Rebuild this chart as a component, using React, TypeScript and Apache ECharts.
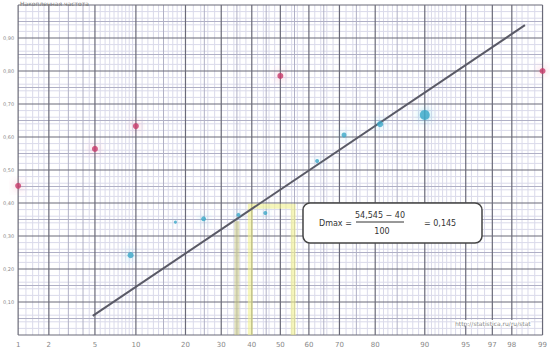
import React, { useEffect, useRef } from "react";
import * as echarts from "echarts";

// ---- data ----
const xTickPercents = [1, 2, 5, 10, 20, 30, 40, 50, 60, 70, 80, 90, 95, 97, 98, 99];
const yTickValues = [0.1, 0.2, 0.3, 0.4, 0.5, 0.6, 0.7, 0.8, 0.9];
const redPercents = [1, 5, 10, 50, 99];
const redValues = [0.452, 0.564, 0.633, 0.785, 0.8];
const bluePercents = [9.2, 17.6, 24.8, 35.5, 44.7, 62.8, 71.4, 81.2, 90];
const blueValues = [0.242, 0.342, 0.352, 0.364, 0.37, 0.527, 0.606, 0.639, 0.667];
const blueSizes = [6, 3, 5, 4, 4, 4, 5, 6, 10];
const fitPercents = [4.8, 98.5];
const fitValues = [0.058, 0.939];
const stepPercents = [39.5, 54.545];
const stepTop = 0.39;
const olivePercent = 35;
const oliveTop = 0.345;

const vMinorPercents = [1.2, 1.4, 1.6, 1.8, 2.5, 3.5, 4.5, 5.5, 6, 6.5, 7, 7.5, 8, 8.5, 9, 9.5, 11, 12, 13, 14, 16, 17, 18, 19, 22, 24, 26, 28, 32, 34, 36, 38, 42, 44, 46, 48, 52, 54, 56, 58, 62, 64, 66, 68, 72, 74, 76, 78, 81, 82, 83, 84, 86, 87, 88, 89, 90.5, 91, 91.5, 92, 92.5, 93, 93.5, 94, 94.5, 95.5, 96, 96.5, 97.5, 98.2, 98.4, 98.6, 98.8];
const vMediumPercents = [3, 4, 15, 25, 35, 45, 55, 65, 75, 85];

// inverse standard normal CDF (axis transform for probability paper)
function probit(p: number): number {
  const a = [-39.69683028665376, 220.9460984245205, -275.9285104469687, 138.357751867269, -30.66479806614716, 2.506628277459239];
  const b = [-54.47609879822406, 161.5858368580409, -155.6989798598866, 66.80131188771972, -13.28068155288572];
  const c = [-0.007784894002430293, -0.3223964580411365, -2.400758277161838, -2.549732539343734, 4.374664141464968, 2.938163982698783];
  const d = [0.007784695709041462, 0.3224671290700398, 2.445134137142996, 3.754408661907416];
  const pl = 0.02425;
  let q: number, r: number;
  if (p < pl) {
    q = Math.sqrt(-2 * Math.log(p));
    return (((((c[0] * q + c[1]) * q + c[2]) * q + c[3]) * q + c[4]) * q + c[5]) / ((((d[0] * q + d[1]) * q + d[2]) * q + d[3]) * q + 1);
  } else if (p <= 1 - pl) {
    q = p - 0.5;
    r = q * q;
    return ((((((a[0] * r + a[1]) * r + a[2]) * r + a[3]) * r + a[4]) * r + a[5]) * q) / (((((b[0] * r + b[1]) * r + b[2]) * r + b[3]) * r + b[4]) * r + 1);
  } else {
    q = Math.sqrt(-2 * Math.log(1 - p));
    return -(((((c[0] * q + c[1]) * q + c[2]) * q + c[3]) * q + c[4]) * q + c[5]) / ((((d[0] * q + d[1]) * q + d[2]) * q + d[3]) * q + 1);
  }
}
const z = (pct: number) => probit(pct / 100);

const MAJOR = "#6a6a78";
const MEDIUM = "#b0b0c6";
const MINOR = "#dadaea";

export default function App() {
  const ref = useRef<HTMLDivElement>(null);
  useEffect(() => {
    if (!ref.current) return;
    const chart = echarts.init(ref.current, null, { renderer: "svg" });
    const zMin = z(1);
    const zMax = z(99);
    const tickZ = xTickPercents.map(z);

    const vLines: number[][] = [];
    vMinorPercents.forEach((p) => vLines.push([z(p), 0]));
    vMediumPercents.forEach((p) => vLines.push([z(p), 1]));
    xTickPercents.forEach((p) => vLines.push([z(p), 2]));
    const hLines: number[][] = [];
    for (let i = 0; i <= 100; i += 2) {
      const lvl = i % 10 === 0 ? 2 : 0;
      hLines.push([i / 100, lvl]);
    }
    for (let i = 5; i < 100; i += 10) hLines.push([i / 100, 1]);

    const colorOf = (l: number) => (l === 2 ? MAJOR : l === 1 ? MEDIUM : MINOR);
    const widthOf = (l: number) => (l === 2 ? 1.2 : 1);
    const F = "DejaVu Sans";

    const option: any = {
      animation: false,
      backgroundColor: "#ffffff",
      grid: { left: 18, right: 4, top: 5, bottom: 17 },
      xAxis: {
        type: "value",
        min: zMin,
        max: zMax,
        axisLine: { show: false },
        axisTick: { show: false },
        splitLine: { show: false },
        axisLabel: {
          customValues: tickZ,
          fontSize: 7,
          color: "#888",
          fontFamily: F,
          margin: 6,
          formatter: (v: number) => {
            let best = 0;
            let bd = Infinity;
            tickZ.forEach((t, i) => {
              const dd = Math.abs(t - v);
              if (dd < bd) { bd = dd; best = i; }
            });
            return String(xTickPercents[best]);
          },
        },
      },
      yAxis: {
        type: "value",
        min: 0,
        max: 1,
        interval: 0.1,
        axisLine: { show: false },
        axisTick: { show: false },
        splitLine: { show: false },
        axisLabel: {
          fontSize: 5,
          color: "#888",
          fontFamily: F,
          margin: 4,
          formatter: (v: number) =>
            yTickValues.some((t) => Math.abs(t - v) < 1e-6) ? v.toFixed(2).replace(".", ",") : "",
        },
      },
      series: [
        {
          type: "custom",
          silent: true,
          clip: false,
          z: 1,
          data: vLines,
          renderItem: (params: any, api: any) => {
            const x = api.value(0);
            const l = api.value(1);
            const p1 = api.coord([x, 0]);
            const p2 = api.coord([x, 1]);
            return {
              type: "line",
              z2: l,
              shape: { x1: p1[0], y1: p1[1], x2: p2[0], y2: p2[1] },
              style: { stroke: colorOf(l), lineWidth: widthOf(l) },
            };
          },
        },
        {
          type: "custom",
          silent: true,
          clip: false,
          z: 1,
          data: hLines,
          renderItem: (params: any, api: any) => {
            const y = api.value(0);
            const l = api.value(1);
            const p1 = api.coord([zMin, y]);
            const p2 = api.coord([zMax, y]);
            return {
              type: "line",
              z2: l,
              shape: { x1: p1[0], y1: p1[1], x2: p2[0], y2: p2[1] },
              style: { stroke: colorOf(l), lineWidth: widthOf(l) },
            };
          },
        },
        {
          type: "custom",
          silent: true,
          clip: false,
          z: 2,
          data: [[z(stepPercents[0]), z(stepPercents[1]), stepTop, z(olivePercent), oliveTop]],
          renderItem: (params: any, api: any) => {
            const a = api.coord([api.value(0), api.value(2)]);
            const b = api.coord([api.value(1), 0]);
            const o1 = api.coord([api.value(3), api.value(4)]);
            const o2 = api.coord([api.value(3), 0]);
            return {
              type: "group",
              children: [
                {
                  type: "polyline",
                  shape: { points: [[a[0], b[1]], [a[0], a[1]], [b[0], a[1]], [b[0], b[1]]] },
                  style: { stroke: "rgba(240,240,140,0.6)", lineWidth: 5, fill: null },
                },
                {
                  type: "line",
                  shape: { x1: o1[0], y1: o1[1], x2: o2[0], y2: o2[1] },
                  style: { stroke: "rgba(200,200,130,0.55)", lineWidth: 5 },
                },
              ],
            };
          },
        },
        {
          type: "line",
          z: 3,
          data: fitPercents.map((p, i) => [z(p), fitValues[i]]),
          symbol: "none",
          lineStyle: { color: "#5a5a66", width: 2 },
          silent: true,
        },
        {
          type: "scatter",
          z: 4,
          clip: false,
          data: redPercents.map((p, i) => [z(p), redValues[i]]),
          symbolSize: 6,
          itemStyle: { color: "#c8386a", shadowBlur: 8, shadowColor: "rgba(230,90,140,0.8)" },
        },
        {
          type: "scatter",
          z: 4,
          clip: false,
          data: bluePercents.map((p, i) => [z(p), blueValues[i]]),
          symbolSize: (v: any, params: any) => blueSizes[params.dataIndex],
          itemStyle: { color: "#3aa8c8", shadowBlur: 8, shadowColor: "rgba(80,200,230,0.8)" },
        },
      ],
      graphic: [
        {
          type: "text",
          left: 20,
          top: 0,
          z: 100,
          style: { text: "Накопленная частота", fontSize: 6, fill: "#777", fontFamily: F },
        },
        {
          type: "text",
          left: 455,
          top: 320,
          z: 100,
          style: { text: "http://statistica.ru/ru/stat", fontSize: 6, fill: "#888", backgroundColor: "#fff", fontFamily: F },
        },
        {
          type: "rect",
          z: 100,
          shape: { x: 303, y: 203, width: 179, height: 40, r: 7 },
          style: { fill: "#ffffff", stroke: "#444", lineWidth: 1.5 },
        },
        {
          type: "text",
          z: 101,
          x: 319,
          y: 223,
          style: { text: "Dmax =", fontSize: 8, fill: "#333", fontFamily: F, verticalAlign: "middle" },
        },
        {
          type: "text",
          z: 101,
          x: 380,
          y: 215,
          style: { text: "54,545 − 40", fontSize: 8, fill: "#333", fontFamily: F, align: "center", verticalAlign: "middle" },
        },
        {
          type: "line",
          z: 101,
          shape: { x1: 356, y1: 222, x2: 404, y2: 222 },
          style: { stroke: "#333", lineWidth: 1 },
        },
        {
          type: "text",
          z: 101,
          x: 382,
          y: 231,
          style: { text: "100", fontSize: 8, fill: "#333", fontFamily: F, align: "center", verticalAlign: "middle" },
        },
        {
          type: "text",
          z: 101,
          x: 424,
          y: 223,
          style: { text: "= 0,145", fontSize: 8, fill: "#333", fontFamily: F, verticalAlign: "middle" },
        },
      ],
    };
    chart.setOption(option);
    return () => chart.dispose();
  }, []);
  return <div ref={ref} style={{ width: 550, height: 352, position: "absolute", left: 0, top: 0 }} />;
}
